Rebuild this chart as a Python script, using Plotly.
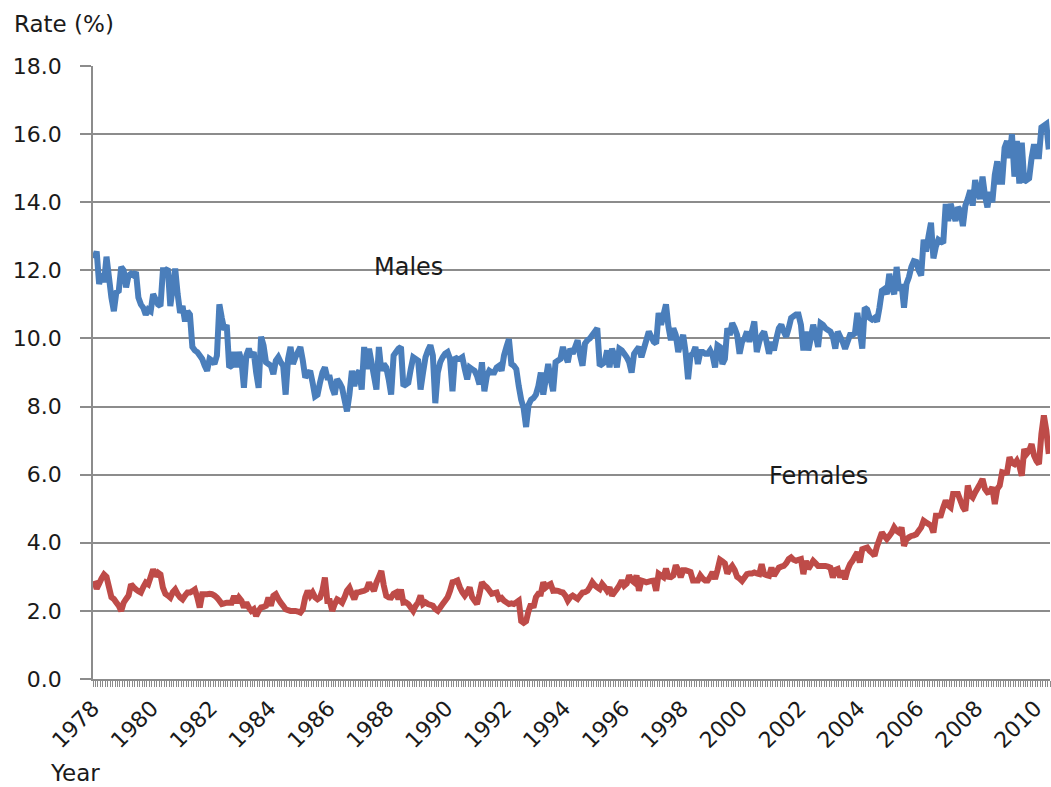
import plotly.graph_objects as go

# Monthly unemployment rates (%), Jan 1978 .. Jun 2010
males = [
    12.35, 12.55, 11.6, 11.9, 11.65, 12.4, 11.8, 11.2, 10.8, 11.35, 11.4, 12.1,
    12.0, 11.5, 11.85, 11.9, 11.85, 11.95, 11.2, 11.0, 10.9, 10.7, 10.85, 10.8,
    11.3, 11.15, 11.0, 10.95, 12.0, 12.0, 12.05, 10.95, 11.5, 12.05, 11.3, 10.75,
    10.95, 10.5, 10.8, 10.7, 9.75, 9.65, 9.6, 9.5, 9.4, 9.2, 9.05, 9.4,
    9.35, 9.25, 9.5, 11.0, 10.6, 10.25, 10.4, 9.15, 9.2, 9.6, 9.15, 9.6,
    9.35, 8.55, 9.5, 9.7, 9.45, 9.6, 9.0, 8.55, 10.05, 9.8, 9.3, 9.25,
    9.2, 8.95, 9.35, 9.45, 9.3, 9.2, 8.35, 9.4, 9.75, 9.25, 9.45, 9.6,
    9.75, 9.35, 8.85, 8.95, 9.05, 8.7, 8.3, 8.35, 8.7, 9.0, 9.15, 8.85,
    8.85, 8.55, 8.35, 8.8, 8.7, 8.55, 8.2, 7.86, 8.35, 9.05, 8.6, 8.95,
    9.05, 8.5, 9.75, 9.1, 9.7, 9.3, 8.9, 8.5, 9.75, 9.05, 9.25, 9.15,
    8.8, 8.35, 9.5, 9.6, 9.7, 9.75, 8.6, 8.65, 8.7, 9.1, 9.45, 9.4,
    9.35, 8.5, 9.0, 9.45, 9.65, 9.8, 9.5, 8.1, 9.0, 9.3, 9.45, 9.55,
    9.6, 9.4, 8.45, 9.45, 9.4, 9.4, 9.45, 9.1, 8.8, 9.15, 9.1, 9.05,
    8.9, 8.65, 9.3, 8.45, 8.9, 9.05, 9.0, 9.0, 9.15, 9.2, 9.05, 9.5,
    9.75, 9.98, 9.25, 9.2, 9.1, 8.6, 8.2, 7.95, 7.4, 8.05, 8.2, 8.25,
    8.35, 8.6, 9.0, 8.35, 8.8, 9.25, 8.8, 8.45, 9.3, 9.35, 9.4, 9.75,
    9.5, 9.3, 9.7, 9.55, 9.75, 9.95, 9.5, 9.2, 9.85, 9.95, 10.0, 10.1,
    10.2, 10.3, 9.2, 9.25, 9.3, 9.65, 9.15, 9.7, 9.5, 9.15, 9.7, 9.65,
    9.55, 9.45, 9.3, 9.0, 9.55, 9.65, 9.75, 9.45, 9.7, 9.95, 10.2, 10.05,
    9.9, 9.85, 10.75, 10.4, 10.7, 11.0, 10.35, 9.95, 10.3, 10.1, 9.6, 9.9,
    10.1, 9.6, 8.8, 9.5, 9.55, 9.75, 9.25, 9.6, 9.6, 9.55, 9.55, 9.65,
    9.5, 9.15, 9.8, 9.75, 9.25, 9.4, 10.3, 10.1, 10.45, 10.3, 10.1, 9.55,
    9.9, 10.0, 10.2, 9.9, 10.2, 10.5, 9.6, 9.9, 10.1, 10.2, 9.9, 9.55,
    9.9, 9.65, 10.0, 10.3, 10.4, 10.2, 10.05, 10.3, 10.6, 10.65, 10.7, 10.7,
    10.4, 9.65, 10.2, 9.65, 10.0, 10.4, 10.1, 9.75, 10.45, 10.4, 10.3, 10.25,
    10.2, 10.05, 9.7, 10.2, 10.05, 9.9, 9.7, 9.9, 10.1, 10.1, 10.15, 10.75,
    10.2, 9.7, 10.9, 10.85, 10.6, 10.55, 10.6, 10.5, 10.9, 11.4, 11.45, 11.3,
    11.9, 11.5, 11.3, 12.1, 11.4, 11.6, 10.9, 11.6, 11.8, 12.1, 12.27, 12.25,
    12.0, 11.85, 12.9, 12.55, 13.0, 13.4, 12.35, 12.7, 12.9, 12.85, 12.8, 13.95,
    13.45, 13.95, 13.7, 13.45, 13.85, 13.75, 13.3, 13.9, 14.1, 14.35, 13.9, 14.65,
    14.3, 14.1, 14.75, 14.2, 13.85, 14.3, 14.0, 14.8, 15.2, 14.6, 14.6, 15.6,
    15.8, 15.3, 16.0, 14.75, 15.8, 14.55, 15.75, 14.6, 14.65, 14.7, 15.3, 15.7,
    15.35, 15.35, 16.2, 16.25, 16.3, 15.55,
]

females = [
    2.88, 2.65, 2.8, 2.95, 3.07, 3.0, 2.7, 2.4, 2.35, 2.25, 2.15, 2.0,
    2.24, 2.35, 2.45, 2.78, 2.7, 2.63, 2.58, 2.54, 2.7, 2.83, 2.78, 3.0,
    3.22, 3.02, 3.12, 3.07, 2.68, 2.5, 2.45, 2.39, 2.55, 2.63, 2.49, 2.4,
    2.34, 2.45, 2.54, 2.54, 2.58, 2.63, 2.4, 2.1, 2.49, 2.49, 2.49, 2.5,
    2.49, 2.45, 2.39, 2.3, 2.2, 2.22, 2.24, 2.24, 2.24, 2.44, 2.24, 2.39,
    2.3, 2.1, 2.24, 2.1, 2.0, 2.05, 1.85, 2.0, 2.1, 2.12, 2.15, 2.39,
    2.15, 2.44, 2.49, 2.35, 2.24, 2.15, 2.05, 2.02, 2.0, 2.0, 2.0, 1.98,
    1.95, 2.05, 2.4, 2.59, 2.44, 2.54, 2.4, 2.34, 2.39, 2.6, 2.98, 2.29,
    2.29, 2.0, 2.2, 2.34, 2.3, 2.24, 2.4, 2.59, 2.68, 2.5, 2.34, 2.54,
    2.55, 2.57, 2.59, 2.63, 2.83, 2.7, 2.59, 2.83, 3.0, 3.17, 2.75, 2.44,
    2.4, 2.39, 2.5, 2.54, 2.34, 2.63, 2.24, 2.25, 2.2, 2.1, 2.0, 2.15,
    2.25, 2.45, 2.2, 2.25, 2.2, 2.18, 2.15, 2.05, 2.0, 2.1, 2.2, 2.3,
    2.4, 2.59, 2.84, 2.86, 2.89, 2.69, 2.55, 2.45, 2.55, 2.69, 2.4, 2.3,
    2.2, 2.5, 2.84, 2.75, 2.69, 2.6, 2.5, 2.52, 2.54, 2.35, 2.38, 2.3,
    2.25, 2.2, 2.22, 2.2, 2.25, 2.3, 1.7, 1.65, 1.7, 2.0, 2.2, 2.1,
    2.4, 2.5, 2.5, 2.84, 2.69, 2.75, 2.79, 2.59, 2.6, 2.59, 2.56, 2.54,
    2.45, 2.3, 2.4, 2.45, 2.4, 2.35, 2.45, 2.54, 2.55, 2.59, 2.7, 2.84,
    2.75, 2.69, 2.64, 2.79, 2.7, 2.59, 2.69, 2.45, 2.55, 2.64, 2.75, 2.89,
    2.74, 2.8, 3.04, 2.9, 2.84, 3.04, 2.59, 2.89, 2.87, 2.84, 2.86, 2.88,
    2.89, 2.59, 3.09, 3.04, 2.99, 3.24, 3.0, 2.99, 3.04, 3.34, 3.2, 2.99,
    3.19, 3.19, 3.17, 3.14, 2.89, 2.89, 2.89, 3.04, 2.95, 2.89, 2.89, 3.0,
    3.14, 2.94, 3.2, 3.5, 3.45, 3.39, 3.1, 3.23, 3.32, 3.2, 3.0, 2.95,
    2.88, 2.98, 3.08, 3.1, 3.1, 3.13, 3.1, 3.08, 3.37, 3.08, 3.05, 3.03,
    3.27, 3.03, 3.15, 3.27, 3.3, 3.32, 3.4, 3.52, 3.57, 3.5, 3.47, 3.5,
    3.52, 3.08, 3.47, 3.23, 3.35, 3.47, 3.4, 3.32, 3.32, 3.32, 3.32, 3.3,
    3.27, 2.98, 3.2, 3.23, 2.98, 3.18, 2.93, 3.2, 3.37, 3.47, 3.6, 3.72,
    3.42, 3.81, 3.84, 3.86, 3.76, 3.7, 3.62, 3.9, 4.1, 4.3, 4.2, 4.11,
    4.2, 4.3, 4.45, 4.35, 4.3, 4.45, 3.91, 4.1, 4.16, 4.2, 4.22, 4.25,
    4.35, 4.45, 4.65, 4.6, 4.55, 4.5, 4.3, 4.79, 4.79, 4.8, 5.04, 5.24,
    5.1, 5.04, 5.43, 5.43, 5.43, 5.24, 5.05, 4.94, 5.68, 5.4, 5.33, 5.48,
    5.6, 5.73, 5.87, 5.58, 5.48, 5.5, 5.63, 5.14, 5.58, 5.68, 6.07, 6.05,
    6.07, 6.51, 6.35, 6.31, 6.41, 6.26, 5.97, 6.75, 6.61, 6.7, 6.9, 6.56,
    6.4, 6.31, 7.2, 7.74, 7.3, 6.61,
]

year_labels = ["1978", "1980", "1982", "1984", "1986", "1988", "1990", "1992",
               "1994", "1996", "1998", "2000", "2002", "2004", "2006", "2008", "2010"]

n = len(months) if False else len(males)
months = list(range(n))

# tick marks at every month boundary; a year label every 24 months
tick_pos = [i - 0.5 for i in range(n + 1)]
tick_txt = [year_labels[i // 24] if (i % 24 == 0 and i // 24 < len(year_labels)) else ""
            for i in range(n + 1)]

FONT = "DejaVu Sans"
GRID = "#8c8c8c"
TXT = "#1a1a1a"
FS = 22

fig = go.Figure()
fig.add_trace(go.Scatter(x=months, y=males, mode="lines", name="Males",
                         line=dict(color="#4A7EBB", width=6, simplify=False)))
fig.add_trace(go.Scatter(x=months, y=females, mode="lines", name="Females",
                         line=dict(color="#BE4B48", width=6, simplify=False)))

fig.update_layout(
    width=1051, height=787,
    margin=dict(l=93, r=1, t=66, b=108, autoexpand=False),
    paper_bgcolor="white", plot_bgcolor="white",
    showlegend=False,
    font=dict(family=FONT, size=FS, color=TXT),
    xaxis=dict(
        range=[-0.5, n - 0.5], automargin=False,
        tickmode="array", tickvals=tick_pos, ticktext=tick_txt,
        tickangle=-45, ticks="outside", ticklen=6, tickcolor=GRID, tickwidth=1,
        showgrid=False, zeroline=False,
        showline=True, linecolor=GRID, linewidth=1.5,
        tickfont=dict(family=FONT, size=FS, color=TXT),
    ),
    yaxis=dict(
        range=[0, 18], automargin=False,
        tickmode="linear", tick0=0, dtick=2, tickformat=".1f",
        showgrid=True, gridcolor=GRID, gridwidth=1.5, zeroline=False,
        showline=True, linecolor=GRID, linewidth=1.5,
        ticks="outside", ticklen=11, tickcolor=GRID, tickwidth=1.5,
        ticklabelstandoff=14,
        tickfont=dict(family=FONT, size=FS, color=TXT),
    ),
    annotations=[
        dict(text="Rate (%)", xref="paper", yref="paper", x=(12 - 93) / 957, y=(679 - 24) / 613,
             xanchor="left", yanchor="middle", showarrow=False,
             font=dict(family=FONT, size=23, color=TXT)),
        dict(text="Year", xref="paper", yref="paper", x=(48 - 93) / 957, y=(679 - 773) / 613,
             xanchor="left", yanchor="middle", showarrow=False,
             font=dict(family=FONT, size=23, color=TXT)),
        dict(text="Males", x=128, y=12.1, xref="x", yref="y", showarrow=False,
             font=dict(family=FONT, size=24, color=TXT)),
        dict(text="Females", x=295, y=5.95, xref="x", yref="y", showarrow=False,
             font=dict(family=FONT, size=24, color=TXT)),
    ],
)

fig.write_html("out.html", config={"displayModeBar": False},
               post_script="document.body.style.margin='0';document.body.style.overflow='hidden';")
